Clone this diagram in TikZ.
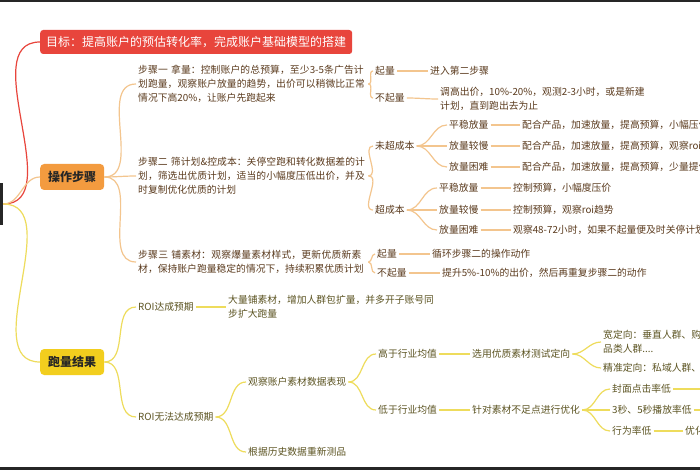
\documentclass[tikz,border=0pt]{standalone}
\usepackage{fontspec}
\setmainfont{Noto Sans CJK SC}
\XeTeXlinebreaklocale "zh"
\XeTeXlinebreakskip=0pt plus 1pt
\usepackage{xcolor}
\usetikzlibrary{positioning}
\definecolor{goalred}{HTML}{E8453C}
\definecolor{steporange}{HTML}{F39B3F}
\definecolor{lineorange}{HTML}{F3C58E}
\definecolor{resyellow}{HTML}{F2CE1E}
\definecolor{lineyellow}{HTML}{EEDC5C}
\definecolor{txtbrown}{HTML}{5B3B1E}
\definecolor{txtolive}{HTML}{5C5422}

\begin{document}
\begin{tikzpicture}[
    x=1pt, y=-1pt,
    root/.style={rectangle, fill=black!85, minimum width=14pt, minimum height=42pt, inner sep=0pt},
    goal/.style={rectangle, fill=goalred, text=white, font=\fontsize{12}{14}\selectfont, rounded corners=3pt, inner xsep=6pt, minimum height=24pt, anchor=west},
    topic/.style={rectangle, rounded corners=4pt, font=\fontsize{12}{14}\selectfont\bfseries, text=black!85, minimum width=64pt, minimum height=26pt, inner sep=2pt, anchor=west},
    otxt/.style={font=\fontsize{9.8}{14}\selectfont, text=txtbrown, inner sep=2pt, anchor=west, align=left},
    ytxt/.style={font=\fontsize{9.8}{14}\selectfont, text=txtolive, inner sep=2pt, anchor=west, align=left},
    oline/.style={draw=lineorange, line width=1.2pt},
    yline/.style={draw=lineyellow, line width=1.2pt},
    rline/.style={draw=goalred, line width=1.2pt}
]
    \useasboundingbox (0,0) rectangle (700,470);
    \clip (0,0) rectangle (700,470);
    \fill[white] (0,0) rectangle (700,470);
    \fill[black!85] (0,0) rectangle (700,2);
    \fill[black!85] (0,467) rectangle (700,470);

    % Root and main topics
    \node[root] (root) at (-4,204) {};
    \node[goal] (goal) at (40,42) {目标：提高账户的预估转化率，完成账户基础模型的搭建};
    \node[topic, fill=steporange] (steps) at (40,177) {操作步骤};
    \node[topic, fill=resyellow] (result) at (40,362) {跑量结果};

    % Operation steps
    \node[otxt, text width=228pt] (step1) at (136,84) {步骤一 拿量：控制账户的总预算，至少3-5条广告计划跑量，观察账户放量的趋势，出价可以稍微比正常情况下高20\%，让账户先跑起来};
    \node[otxt, text width=228pt] (step2) at (136,176) {步骤二 筛计划\&控成本：关停空跑和转化数据差的计划，筛选出优质计划，适当的小幅度压低出价，并及时复制优化优质的计划};
    \node[otxt, text width=228pt] (step3) at (136,262) {步骤三 铺素材：观察爆量素材样式，更新优质新素材，保持账户跑量稳定的情况下，持续积累优质计划};

    % Step one
    \node[otxt] (s1up) at (373,71) {起量};
    \node[otxt] (s1no) at (373,98) {不起量};
    \node[otxt] (s1upL) at (428,71) {进入第二步骤};
    \node[otxt] (s1noL) at (438,99) {调高出价，10\%-20\%，观测2-3小时，或是新建\\计划，直到跑出去为止};

    % Step two
    \node[otxt] (s2under) at (373,146) {未超成本};
    \node[otxt] (s2over) at (373,210) {超成本};
    \node[otxt] (u1) at (447,125) {平稳放量};
    \node[otxt] (u2) at (447,146) {放量较慢};
    \node[otxt] (u3) at (447,167) {放量困难};
    \node[otxt] (u1L) at (520,125) {配合产品，加速放量，提高预算，小幅压价};
    \node[otxt] (u2L) at (520,146) {配合产品，加速放量，提高预算，观察roi趋势};
    \node[otxt] (u3L) at (520,167) {配合产品，加速放量，提高预算，少量提价};
    \node[otxt] (o1) at (437,188) {平稳放量};
    \node[otxt] (o2) at (437,210) {放量较慢};
    \node[otxt] (o3) at (437,230) {放量困难};
    \node[otxt] (o1L) at (511,188) {控制预算，小幅度压价};
    \node[otxt] (o2L) at (511,210) {控制预算，观察roi趋势};
    \node[otxt] (o3L) at (511,230) {观察48-72小时，如果不起量便及时关停计划};

    % Step three
    \node[otxt] (s3up) at (375,254) {起量};
    \node[otxt] (s3no) at (375,273) {不起量};
    \node[otxt] (s3upL) at (430,254) {循环步骤二的操作动作};
    \node[otxt] (s3noL) at (440,273) {提升5\%-10\%的出价，然后再重复步骤二的动作};

    % Run results
    \node[ytxt] (roiok) at (136,307) {ROI达成预期};
    \node[ytxt] (roiokL) at (226,307) {大量铺素材，增加人群包扩量，并多开子账号同\\步扩大跑量};
    \node[ytxt] (roino) at (136,417) {ROI无法达成预期};
    \node[ytxt] (watch) at (246,382) {观察账户素材数据表现};
    \node[ytxt] (retest) at (246,452) {根据历史数据重新测品};
    \node[ytxt] (high) at (376,354) {高于行业均值};
    \node[ytxt] (low) at (376,410) {低于行业均值};
    \node[ytxt] (choose) at (470,354) {选用优质素材测试定向};
    \node[ytxt] (fix) at (470,410) {针对素材不足点进行优化};
    \node[ytxt] (wide) at (601,342) {宽定向：垂直人群、购物人群、\\品类人群....};
    \node[ytxt] (exact) at (601,368) {精准定向：私域人群、达人粉丝};
    \node[ytxt] (cover) at (610,389) {封面点击率低};
    \node[ytxt] (play) at (610,410) {3秒、5秒播放率低};
    \node[ytxt] (act) at (610,431) {行为率低};
    \node[ytxt] (actL) at (683,431) {优化引导};
    \coordinate (coverE) at (705,389);
    \coordinate (playE) at (705,410);

    % Connectors - main
    \draw[rline] (root.east) to[out=0,in=180] (goal.west);
    \draw[oline] (root.east) to[out=0,in=180] (steps.west);
    \draw[yline] (root.east) to[out=0,in=180] (result.west);

    % Connectors - steps
    \foreach \a/\b in {steps/step1, steps/step2, steps/step3,
        step1/s1up, step1/s1no, s1up/s1upL, s1no/s1noL,
        step2/s2under, step2/s2over, s2under/u1, s2under/u2, s2under/u3,
        u1/u1L, u2/u2L, u3/u3L, s2over/o1, s2over/o2, s2over/o3,
        o1/o1L, o2/o2L, o3/o3L,
        step3/s3up, step3/s3no, s3up/s3upL, s3no/s3noL}
        \draw[oline] (\a.east) to[out=0,in=180] (\b.west);

    % Connectors - results
    \foreach \a/\b in {result/roiok, result/roino, roiok/roiokL,
        roino/watch, roino/retest, watch/high, watch/low,
        high/choose, low/fix, choose/wide, choose/exact,
        fix/cover, fix/play, fix/act, act/actL}
        \draw[yline] (\a.east) to[out=0,in=180] (\b.west);
    \draw[yline] (cover.east) -- (coverE);
    \draw[yline] (play.east) -- (playE);
\end{tikzpicture}
\end{document}
